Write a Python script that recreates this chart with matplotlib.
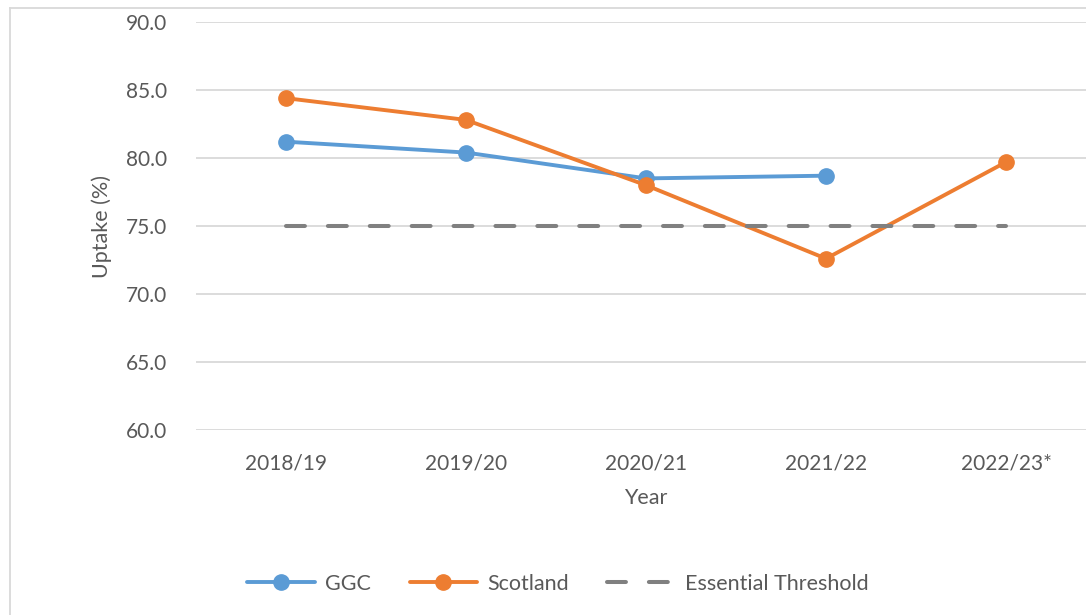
import matplotlib.pyplot as plt
from matplotlib.lines import Line2D

# Uptake values
years = ['2018/19', '2019/20', '2020/21', '2021/22', '2022/23*']
ggc = [81.2, 80.4, 78.5, 78.7]
scotland = [84.4, 82.8, 78.0, 72.6, 79.7]
threshold = [75.0, 75.0, 75.0, 75.0, 75.0]

blue = '#5B9BD5'
orange = '#ED7D31'
grey = '#808080'
text_col = '#595959'

plt.rcParams['font.family'] = ['Lato', 'DejaVu Sans']

fig = plt.figure(figsize=(10.86, 6.15), dpi=100)
ax = fig.add_axes([196 / 1086, 1 - 430 / 615, 900 / 1086, 408 / 615])

x = list(range(len(years)))
ax.plot(x[:len(ggc)], ggc, color=blue, lw=2.8, marker='o', ms=11,
        solid_capstyle='round', label='GGC', zorder=3)
ax.plot(x, scotland, color=orange, lw=2.8, marker='o', ms=11,
        solid_capstyle='round', label='Scotland', zorder=3)
ax.plot(x, threshold, color=grey, lw=2.9, dashes=(4.7, 5.7),
        dash_capstyle='round', label='Essential Threshold', zorder=4)

ax.set_xlim(-0.5, 4.5)
ax.set_ylim(60, 90)
ax.set_yticks([60, 65, 70, 75, 80, 85, 90])
ax.set_yticklabels([f'{v:.1f}' for v in [60, 65, 70, 75, 80, 85, 90]])
ax.set_xticks(x)
ax.set_xticklabels(years)
ax.tick_params(length=0, labelsize=15, colors=text_col)
ax.tick_params(axis='x', pad=17)
ax.tick_params(axis='y', pad=21)
ax.grid(axis='y', color='#D9D9D9', lw=1.3)
ax.set_axisbelow(True)
for s in ax.spines.values():
    s.set_visible(False)

ax.set_xlabel('Year', fontsize=15.5, color=text_col, labelpad=10)
ax.set_ylabel('Uptake (%)', fontsize=15.5, color=text_col, labelpad=10)

# chart frame (left and top edges visible)
fig.add_artist(Line2D([9.5 / 1086, 9.5 / 1086], [0, 1 - 7.5 / 615], transform=fig.transFigure,
                      color='#D9D9D9', lw=1.3))
fig.add_artist(Line2D([9.5 / 1086, 1], [1 - 7.5 / 615, 1 - 7.5 / 615], transform=fig.transFigure,
                      color='#D9D9D9', lw=1.3))

fig.legend(loc='center', bbox_to_anchor=(558 / 1086, 1 - 584 / 615), ncol=3, frameon=False,
           fontsize=15.5, labelcolor=text_col, handlelength=3.15, columnspacing=1.8,
           handletextpad=0.45)

fig.savefig('out.png', dpi=100)
